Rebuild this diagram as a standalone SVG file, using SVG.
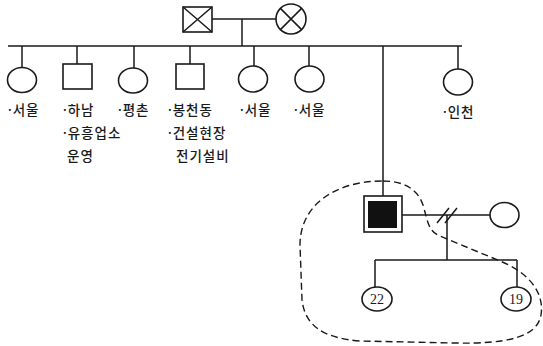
<svg xmlns="http://www.w3.org/2000/svg" width="543" height="346" viewBox="0 0 543 346">
<style>
.ln{stroke:#1a1a1a;stroke-width:1.5;fill:none}
.nd{stroke:#1a1a1a;stroke-width:1.6;fill:#fff}
.t{font-family:"Noto Sans","Noto Sans CJK KR",sans-serif;font-size:13.5px;font-weight:500;fill:#1a1a1a;letter-spacing:1px}
.n{font-family:"Liberation Serif",serif;font-size:14px;fill:#1a1a1a;text-anchor:middle}
.dash{stroke:#1a1a1a;stroke-width:1.4;fill:none;stroke-dasharray:7 4}
</style>
<rect width="543" height="346" fill="#fff"/>
<g id="connectors">
<path class="ln" d="M212 19H276M242 19V46M8 46H462"/>
<path class="ln" d="M22 46V68M77 46V64M134 46V68M190 46V64M254 46V66M309 46V66M458 46V70M383 46V196"/>
<path class="ln" d="M402 215H490M447 215V260M375 260H517M375 260V287M517 260V287"/>
<path class="ln" d="M437 223L449 208M445 223L457 208"/>
</g>
<g id="father"><rect class="nd" x="183" y="7" width="29" height="25"/><path class="ln" d="M183 7L212 32M212 7L183 32"/></g>
<g id="mother"><circle class="nd" cx="291" cy="19" r="15"/><path class="ln" d="M280.4 8.4L301.6 29.6M301.6 8.4L280.4 29.6"/></g>
<g id="c1"><ellipse class="nd" cx="22" cy="80" rx="14.5" ry="12.5"/><text class="t" x="8" y="115">·서울</text></g>
<g id="c2"><rect class="nd" x="63" y="64" width="29" height="25"/><text class="t" x="63" y="115">·하남</text><text class="t" x="63" y="138">·유흥업소</text><text class="t" x="67" y="161">운영</text></g>
<g id="c3"><ellipse class="nd" cx="133" cy="80.5" rx="14.5" ry="12.5"/><text class="t" x="118" y="115">·평촌</text></g>
<g id="c4"><rect class="nd" x="176" y="64" width="28" height="25"/><text class="t" x="168" y="115">·봉천동</text><text class="t" x="168" y="138">·건설현장</text><text class="t" x="176" y="161">전기설비</text></g>
<g id="c5"><ellipse class="nd" cx="253" cy="79" rx="14.5" ry="13"/><text class="t" x="240" y="115">·서울</text></g>
<g id="c6"><ellipse class="nd" cx="309.5" cy="79" rx="14.5" ry="13"/><text class="t" x="294" y="115">·서울</text></g>
<g id="c7"><ellipse class="nd" cx="458" cy="82" rx="14.5" ry="13"/><text class="t" x="443" y="117">·인천</text></g>
<g id="proband"><rect class="nd" x="364" y="196" width="38" height="36"/><rect x="368" y="201" width="29" height="27" fill="#111"/></g>
<g id="spouse"><ellipse class="nd" cx="504.5" cy="215" rx="14.5" ry="12.5"/></g>
<g id="child22"><ellipse class="nd" cx="377" cy="299" rx="15" ry="12"/><text class="n" x="377" y="304">22</text></g>
<g id="child19"><ellipse class="nd" cx="516" cy="299" rx="15" ry="12"/><text class="n" x="516" y="304">19</text></g>
<g id="household"><path class="dash" d="M383 181C405 181 418 190 423 205C428 222 428 231 440 236L500 261C525 271 545 290 541 315C537 338 505 344 455 343L360 341C322 338 305 325 302 300L300 245C300 205 335 181 383 181Z"/></g>
</svg>
